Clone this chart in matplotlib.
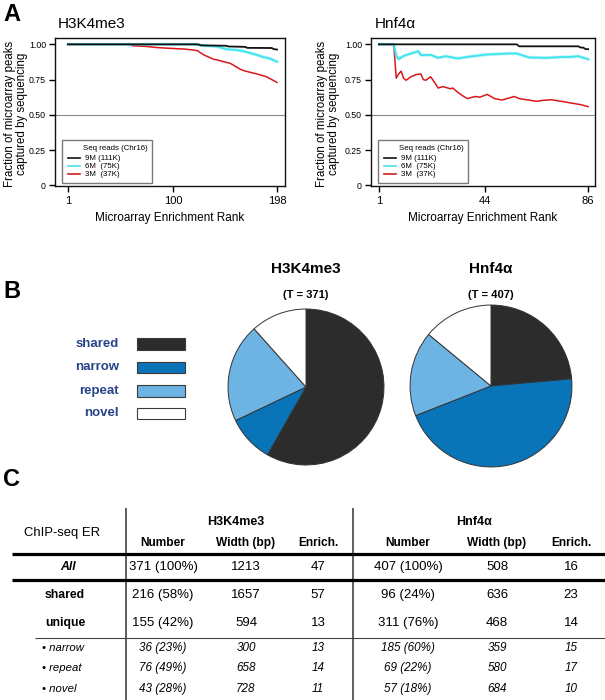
import matplotlib
matplotlib.use('Agg')
import matplotlib.pyplot as plt
from matplotlib import font_manager
from matplotlib.lines import Line2D
from matplotlib.patches import Rectangle

# ---------------- data ----------------
reads_labels = ['9M (111K)', '6M  (75K)', '3M  (37K)']
legend_title = 'Seq reads (Chr16)'

# Panel A, H3K4me3 (microarray rank -> fraction captured)
h3_rank_9M = [1, 124, 126, 150, 152, 168, 170, 193, 195, 198]
h3_frac_9M = [1.0, 1.0, 0.993, 0.99, 0.985, 0.982, 0.975, 0.974, 0.966, 0.963]
h3_rank_6M = [1, 119, 130, 141, 151, 160, 167, 179, 185, 191, 198]
h3_frac_6M = [1.0, 1.0, 0.99, 0.985, 0.965, 0.96, 0.95, 0.925, 0.91, 0.90, 0.877]
h3_rank_3M = [1, 60, 62, 75, 85, 101, 110, 119, 123, 129, 138, 141, 154, 163, 166, 175, 179, 188, 198]
h3_frac_3M = [1.0, 1.0, 0.99, 0.985, 0.977, 0.97, 0.967, 0.96, 0.955, 0.925, 0.895, 0.89, 0.865, 0.825,
              0.815, 0.797, 0.79, 0.77, 0.73]

# Panel A, Hnf4a
hn_rank_9M = [1, 57, 58, 82, 83, 84, 85, 86]
hn_frac_9M = [1.0, 1.0, 0.986, 0.986, 0.977, 0.977, 0.966, 0.966]
hn_rank_6M = [1, 7, 8, 9, 11, 14, 17, 18, 22, 25, 28, 33, 37, 45, 54, 57, 60, 62, 69, 75, 79, 82, 84, 86]
hn_frac_6M = [1.0, 1.0, 0.92, 0.895, 0.918, 0.935, 0.951, 0.923, 0.925, 0.904, 0.916, 0.90, 0.911, 0.928,
              0.935, 0.935, 0.918, 0.907, 0.904, 0.91, 0.911, 0.916, 0.905, 0.895]
hn_rank_3M = [1, 7, 8, 9, 10, 11, 12, 14, 16, 18, 19, 20, 22, 24, 25, 27, 30, 31, 33, 35, 37, 40, 42, 45,
              48, 51, 54, 56, 58, 61, 65, 68, 71, 75, 79, 83, 86]
hn_frac_3M = [1.0, 1.0, 0.76, 0.79, 0.81, 0.76, 0.745, 0.77, 0.785, 0.79, 0.75, 0.745, 0.77, 0.72, 0.69,
              0.70, 0.685, 0.69, 0.66, 0.635, 0.615, 0.63, 0.625, 0.645, 0.615, 0.605, 0.62, 0.63, 0.615,
              0.607, 0.596, 0.603, 0.607, 0.596, 0.584, 0.572, 0.558]

h3_xticks = [1, 100, 198]
hn_xticks = [1, 44, 86]
y_ticks = [0, 0.25, 0.50, 0.75, 1.00]
y_ticklabels = ['0', '0.25', '0.50', '0.75', '1.00']

# Panel B / C
categories = ['shared', 'narrow', 'repeat', 'novel']
row_labels = ['All', 'shared', 'unique', '\u2022 narrow', '\u2022 repeat', '\u2022 novel']
h3_number = [371, 216, 155, 36, 76, 43]
h3_pct = [100, 58, 42, 23, 49, 28]
h3_width = [1213, 1657, 594, 300, 658, 728]
h3_enrich = [47, 57, 13, 13, 14, 11]
hn_number = [407, 96, 311, 185, 69, 57]
hn_pct = [100, 24, 76, 60, 22, 18]
hn_width = [508, 636, 468, 359, 580, 684]
hn_enrich = [16, 23, 14, 15, 17, 10]
col_headers = ['Number', 'Width (bp)', 'Enrich.']

# ---------------- style ----------------
W, H = 605, 700
fig = plt.figure(figsize=(6.05, 7.0), dpi=100)


def fx(x):
    return x / W


def fy(y):
    return 1 - y / H


def rect(x0, y0, x1, y1):
    return [fx(x0), fy(y1), (x1 - x0) / W, (y1 - y0) / H]


def has_font(name):
    try:
        font_manager.findfont(font_manager.FontProperties(family=name), fallback_to_default=False)
        return True
    except Exception:
        return False


SANS = ['Liberation Sans', 'DejaVu Sans']
NARROW_OK = has_font('Liberation Sans Narrow')
NARROW = ['Liberation Sans Narrow', 'Liberation Sans', 'DejaVu Sans'] if NARROW_OK else SANS
plt.rcParams['font.family'] = SANS

C_BLACK = '#111111'
C_CYAN = '#3ee4ee'
C_RED = '#d9181c'
pie_colors = ['#2c2c2c', '#0a74b8', '#6db3e3', '#ffffff']
label_blue = '#27448a'

# ---------------- panel A ----------------
panels = [
    dict(box=(55, 38, 285, 186), xlim=(-11.2, 205.5), xticks=h3_xticks, title='H3K4me3',
         title_x=58, ylab_x=16,
         series=[(h3_rank_3M, h3_frac_3M), (h3_rank_6M, h3_frac_6M), (h3_rank_9M, h3_frac_9M)]),
    dict(box=(371, 38, 595, 186), xlim=(-2.25, 88.8), xticks=hn_xticks, title='Hnf4\u03b1',
         title_x=375, ylab_x=328,
         series=[(hn_rank_3M, hn_frac_3M), (hn_rank_6M, hn_frac_6M), (hn_rank_9M, hn_frac_9M)]),
]

for p in panels:
    x0, y0, x1, y1 = p['box']
    ax = fig.add_axes(rect(x0, y0, x1, y1))
    ax.set_xlim(*p['xlim'])
    ax.set_ylim(-0.005, 1.045)
    ax.axhline(0.5, color='#8a8a8a', lw=0.8, zorder=1)
    (r3, f3), (r6, f6), (r9, f9) = p['series']
    l3, = ax.plot(r3, f3, color=C_RED, lw=1.1, zorder=3)
    ax.plot(r6, f6, color=C_CYAN, lw=2.4, alpha=0.35, zorder=3.5, solid_joinstyle='round')
    l6, = ax.plot(r6, f6, color=C_CYAN, lw=1.3, zorder=4)
    l9, = ax.plot(r9, f9, color=C_BLACK, lw=1.3, zorder=5)
    ax.set_xticks(p['xticks'])
    ax.set_xticklabels([str(t) for t in p['xticks']], fontsize=8)
    ax.set_yticks(y_ticks)
    ax.set_yticklabels(y_ticklabels, fontsize=6.3)
    ax.tick_params(axis='y', direction='out', length=4.5, width=1.0, pad=2)
    ax.tick_params(axis='x', direction='out', length=4.5, width=1.0, pad=3)
    for s in ax.spines.values():
        s.set_linewidth(1.0)
        s.set_color('#111111')
    ax.set_xlabel('Microarray Enrichment Rank', fontsize=8.5, labelpad=4)

    # manual legend (pixel offsets relative to axes)
    aw, ah = x1 - x0, y1 - y0

    def ap(px, py):
        return ((px - x0) / aw, (y1 - py) / ah)

    lx0, ly0 = x0 + 7, 140
    lx1, ly1 = x0 + 97, 183
    bl = ap(lx0, ly1)
    ax.add_patch(Rectangle(bl, (lx1 - lx0) / aw, (ly1 - ly0) / ah, transform=ax.transAxes,
                           facecolor='white', edgecolor='#7a7a7a', lw=1.0, zorder=6))
    tx, ty = ap(x0 + 28, 149)
    ax.text(tx, ty, legend_title, transform=ax.transAxes, fontsize=5.7, va='center', ha='left', zorder=7)
    for line_obj, lab, yy in zip([l9, l6, l3], reads_labels, [158, 166, 174]):
        hx0, hy = ap(x0 + 13, yy)
        hx1, _ = ap(x0 + 25, yy)
        ax.plot([hx0, hx1], [hy, hy], transform=ax.transAxes, color=line_obj.get_color(),
                lw=1.2, zorder=7, clip_on=False)
        txx, _ = ap(x0 + 30, yy)
        ax.text(txx, hy, lab, transform=ax.transAxes, fontsize=5.7, va='center', ha='left', zorder=7)

    fig.text(fx(p['title_x']), fy(28), p['title'], fontsize=11, ha='left', va='baseline')
    fig.text(fx(p['ylab_x']), fy(114), 'Fraction of microarray peaks\ncaptured by sequencing',
             rotation=90, fontsize=8.3, ha='center', va='center', multialignment='center',
             linespacing=1.05)

fig.text(fx(3), fy(3), 'A', fontsize=17, weight='bold', ha='left', va='top')

# ---------------- panel B ----------------
fig.text(fx(3), fy(280), 'B', fontsize=17, weight='bold', ha='left', va='top')

legend_rows_y = [(338, 350), (362, 373), (385, 397), (408, 419)]
for cat, col, (ya, yb) in zip(categories, pie_colors, legend_rows_y):
    fig.add_artist(Rectangle((fx(137), fy(yb)), 48 / W, (yb - ya) / H, transform=fig.transFigure,
                             facecolor=col, edgecolor='#3a3a3a', lw=0.8))
    fig.text(fx(119), fy((ya + yb) / 2), cat, fontsize=11 if NARROW_OK else 9.5, weight='bold',
             color=label_blue, ha='right', va='center', family=NARROW)

pie_specs = [
    dict(cx=306, cy=387, r=78, title='H3K4me3', total=h3_number[0],
         vals=[h3_number[1], h3_number[3], h3_number[4], h3_number[5]]),
    dict(cx=491, cy=386, r=81, title='Hnf4\u03b1', total=hn_number[0],
         vals=[hn_number[1], hn_number[3], hn_number[4], hn_number[5]]),
]
for ps in pie_specs:
    cx, cy, r = ps['cx'], ps['cy'], ps['r']
    pax = fig.add_axes(rect(cx - r - 1, cy - r - 1, cx + r + 1, cy + r + 1))
    pax.pie(ps['vals'], colors=pie_colors, startangle=90, counterclock=False, radius=1.0,
            wedgeprops=dict(edgecolor='#333333', linewidth=0.7))
    pax.set_xlim(-1.013, 1.013)
    pax.set_ylim(-1.013, 1.013)
    pax.set_aspect('equal')
    pax.axis('off')
    fig.text(fx(cx), fy(269), ps['title'], fontsize=13 if NARROW_OK else 11, weight='bold',
             ha='center', va='center', family=NARROW)
    fig.text(fx(cx), fy(295), '(T = %d)' % ps['total'], fontsize=9.5 if NARROW_OK else 8,
             weight='bold', ha='center', va='center', family=NARROW)

# ---------------- panel C ----------------
fig.text(fx(3), fy(468), 'C', fontsize=17, weight='bold', ha='left', va='top')


def hline(y, x0, x1, lw, color='black'):
    fig.add_artist(Line2D([fx(x0), fx(x1)], [fy(y), fy(y)], transform=fig.transFigure,
                          lw=lw, color=color, solid_capstyle='butt'))


def vline(x, y0, y1, lw, color='#333333'):
    fig.add_artist(Line2D([fx(x), fx(x)], [fy(y0), fy(y1)], transform=fig.transFigure,
                          lw=lw, color=color, solid_capstyle='butt'))


vline(126, 508, 700, 1.1)
vline(353, 508, 700, 1.1)
hline(554, 12, 605, 2.3)
hline(580, 12, 605, 2.3)
hline(638, 35, 605, 0.8, '#444444')

fig.text(fx(62), fy(533), 'ChIP-seq ER', fontsize=9.4, ha='center', va='center')
fig.text(fx(236), fy(522), 'H3K4me3', fontsize=9, weight='bold', ha='center', va='center')
fig.text(fx(474), fy(522), 'Hnf4\u03b1', fontsize=9, weight='bold', ha='center', va='center')

left_cols = [163, 246, 318]
right_cols = [408, 497, 571]
for cx_, hdr in zip(left_cols + right_cols, col_headers + col_headers):
    fig.text(fx(cx_), fy(543), hdr, fontsize=8.6, weight='bold', ha='center', va='center')

row_y = [567, 595, 623, 648, 668, 689]
for i, (lab, yy) in enumerate(zip(row_labels, row_y)):
    if i == 0:
        fig.text(fx(68), fy(yy), lab, fontsize=8.8, weight='bold', style='italic',
                 ha='center', va='center')
        fs, st = 9.5, 'normal'
    elif i < 3:
        fig.text(fx(45), fy(yy), lab, fontsize=8.8, weight='bold', ha='left', va='center')
        fs, st = 9.5, 'normal'
    else:
        fig.text(fx(42), fy(yy), lab, fontsize=8.2, style='italic', ha='left', va='center')
        fs, st = 8.4, 'italic'
    for cols, num, pct, wid, enr in [(left_cols, h3_number, h3_pct, h3_width, h3_enrich),
                                      (right_cols, hn_number, hn_pct, hn_width, hn_enrich)]:
        vals = ['%d (%d%%)' % (num[i], pct[i]), str(wid[i]), str(enr[i])]
        for cxx, v in zip(cols, vals):
            fig.text(fx(cxx), fy(yy), v, fontsize=fs, style=st, ha='center', va='center')

fig.savefig('out.png', dpi=100)
